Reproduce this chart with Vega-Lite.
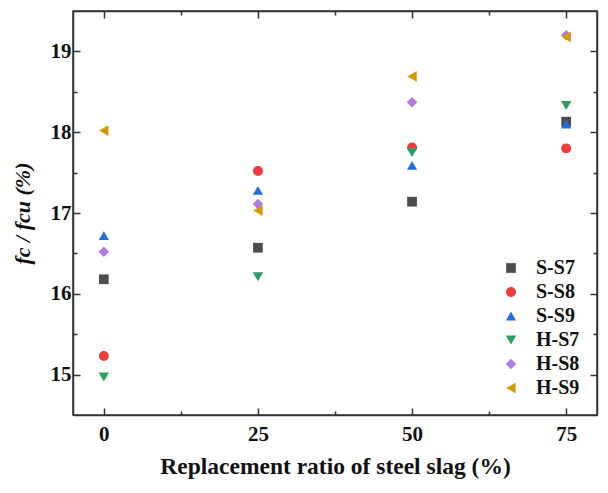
{
  "$schema": "https://vega.github.io/schema/vega-lite/v6.json",
  "width": 524,
  "height": 404,
  "autosize": {"type": "none"},
  "padding": {"left": 73, "top": 11, "right": 11, "bottom": 78},
  "config": {
    "font": "Liberation Serif",
    "view": {"stroke": "#333333", "strokeWidth": 1.5},
    "axis": {
      "domainColor": "#333333",
      "domainWidth": 1.5,
      "tickColor": "#333333",
      "tickWidth": 1.5,
      "grid": false,
      "labelFont": "Liberation Serif",
      "labelFontSize": 21,
      "labelFontWeight": "bold",
      "labelColor": "#111111",
      "titleFont": "Liberation Serif",
      "titleFontWeight": "bold",
      "titleColor": "#111111"
    },
    "legend": {
      "labelFont": "Liberation Serif",
      "labelFontSize": 20,
      "labelFontWeight": "bold",
      "labelColor": "#111111"
    }
  },
  "data": {
    "values": [
      {"ratio": 0, "series": "S-S7", "value": 16.18},
      {"ratio": 0, "series": "S-S8", "value": 15.23},
      {"ratio": 0, "series": "S-S9", "value": 16.72},
      {"ratio": 0, "series": "H-S7", "value": 14.97},
      {"ratio": 0, "series": "H-S8", "value": 16.52},
      {"ratio": 0, "series": "H-S9", "value": 18.02},
      {"ratio": 25, "series": "S-S7", "value": 16.57},
      {"ratio": 25, "series": "S-S8", "value": 17.52},
      {"ratio": 25, "series": "S-S9", "value": 17.28},
      {"ratio": 25, "series": "H-S7", "value": 16.21},
      {"ratio": 25, "series": "H-S8", "value": 17.11},
      {"ratio": 25, "series": "H-S9", "value": 17.03},
      {"ratio": 50, "series": "S-S7", "value": 17.14},
      {"ratio": 50, "series": "S-S8", "value": 17.81},
      {"ratio": 50, "series": "S-S9", "value": 17.59},
      {"ratio": 50, "series": "H-S7", "value": 17.75},
      {"ratio": 50, "series": "H-S8", "value": 18.37},
      {"ratio": 50, "series": "H-S9", "value": 18.69},
      {"ratio": 75, "series": "S-S7", "value": 18.13},
      {"ratio": 75, "series": "S-S8", "value": 17.80},
      {"ratio": 75, "series": "S-S9", "value": 18.10},
      {"ratio": 75, "series": "H-S7", "value": 18.33},
      {"ratio": 75, "series": "H-S8", "value": 19.20},
      {"ratio": 75, "series": "H-S9", "value": 19.18}
    ]
  },
  "layer": [
    {
      "mark": {"type": "point", "filled": true, "opacity": 1},
      "encoding": {
        "x": {
          "field": "ratio",
          "type": "quantitative",
          "scale": {"domain": [-5, 80], "nice": false, "zero": false},
          "axis": {
            "orient": "bottom",
            "values": [0, 12.5, 25, 37.5, 50, 62.5, 75],
            "labelExpr": "datum.value % 25 === 0 ? format(datum.value, 'd') : ''",
            "labelFont": "Liberation Serif",
            "tickSize": {"condition": {"test": "datum.value % 25 !== 0", "value": -4}, "value": -7},
            "labelPadding": 15,
            "title": "Replacement ratio of steel slag (%)",
            "titleFontSize": 23.5,
            "titlePadding": 10
          }
        },
        "y": {
          "field": "value",
          "type": "quantitative",
          "scale": {"domain": [14.5, 19.5], "nice": false, "zero": false},
          "axis": {
            "orient": "left",
            "values": [15, 15.5, 16, 16.5, 17, 17.5, 18, 18.5, 19],
            "labelExpr": "datum.value % 1 === 0 ? format(datum.value, 'd') : ''",
            "labelFont": "Liberation Serif",
            "tickSize": {"condition": {"test": "datum.value % 1 !== 0", "value": -4}, "value": -7},
            "labelPadding": 9,
            "title": "fc / fcu (%)",
            "titleFontSize": 22,
            "titleFontStyle": "italic",
            "titlePadding": 16
          }
        },
        "color": {
          "field": "series",
          "type": "nominal",
          "scale": {
            "domain": ["S-S7", "S-S8", "S-S9", "H-S7", "H-S8", "H-S9"],
            "range": ["#4d4d4d", "#f03c3c", "#1f6fe0", "#2e9e60", "#b07ae0", "#d19a00"]
          },
          "legend": {
            "title": null,
            "orient": "bottom-right",
            "offset": 17,
            "padding": 0,
            "labelOffset": 15,
            "rowPadding": 4,
            "symbolStrokeWidth": 0
          }
        },
        "shape": {
          "field": "series",
          "type": "nominal",
          "scale": {
            "domain": ["S-S7", "S-S8", "S-S9", "H-S7", "H-S8", "H-S9"],
            "range": ["square", "circle", "triangle-up", "triangle-down", "diamond", "triangle-left"]
          },
          "legend": {
            "title": null,
            "orient": "bottom-right",
            "offset": 17,
            "padding": 0,
            "labelOffset": 15,
            "rowPadding": 4,
            "symbolStrokeWidth": 0
          }
        },
        "size": {
          "field": "series",
          "type": "nominal",
          "scale": {
            "domain": ["S-S7", "S-S8", "S-S9", "H-S7", "H-S8", "H-S9"],
            "range": [95, 115, 155, 155, 165, 155]
          },
          "legend": {
            "title": null,
            "orient": "bottom-right",
            "offset": 17,
            "padding": 0,
            "labelOffset": 15,
            "rowPadding": 4,
            "symbolStrokeWidth": 0
          }
        }
      }
    },
    {
      "mark": {"type": "point", "opacity": 0},
      "encoding": {
        "x": {
          "field": "ratio",
          "type": "quantitative",
          "scale": {"domain": [-5, 80], "nice": false, "zero": false},
          "axis": {
            "orient": "top",
            "values": [0, 12.5, 25, 37.5, 50, 62.5, 75],
            "labels": false,
            "title": null,
            "tickSize": {"condition": {"test": "datum.value % 25 !== 0", "value": -4}, "value": -7}
          }
        },
        "y": {
          "field": "value",
          "type": "quantitative",
          "scale": {"domain": [14.5, 19.5], "nice": false, "zero": false},
          "axis": {
            "orient": "right",
            "values": [15, 15.5, 16, 16.5, 17, 17.5, 18, 18.5, 19],
            "labels": false,
            "title": null,
            "tickSize": {"condition": {"test": "datum.value % 1 !== 0", "value": -4}, "value": -7}
          }
        }
      }
    }
  ],
  "resolve": {"axis": {"x": "independent", "y": "independent"}}
}
